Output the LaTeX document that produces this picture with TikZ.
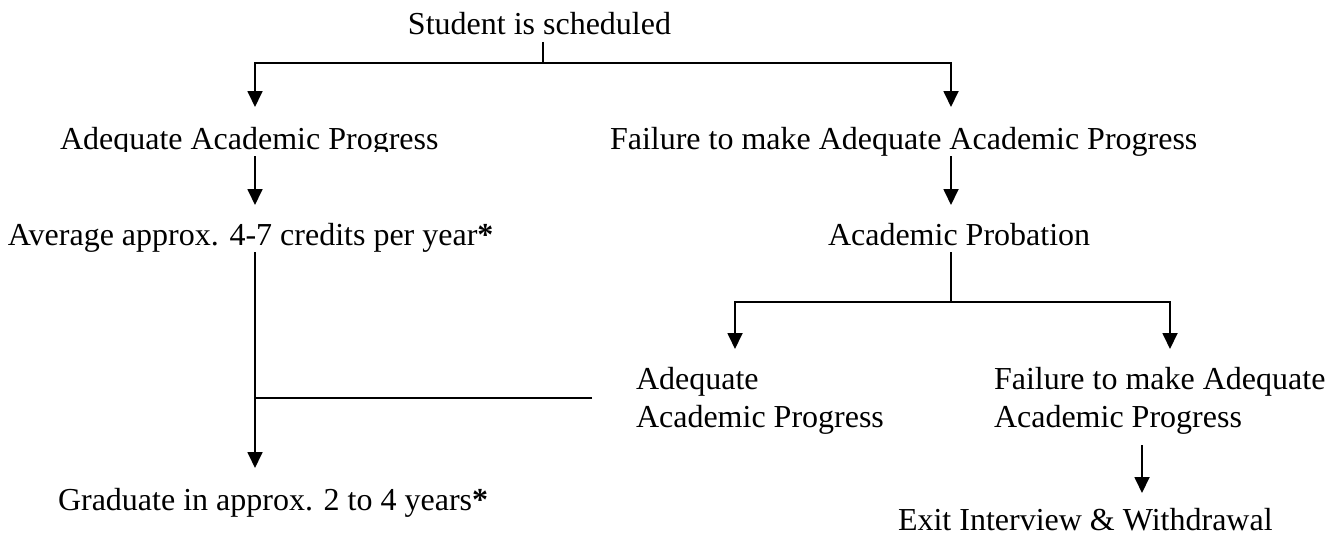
\documentclass[tikz,border=0pt]{standalone}
\usepackage{fontspec}
\setmainfont{Liberation Serif}
\usetikzlibrary{arrows.meta}
\begin{document}
\begin{tikzpicture}[x=1pt,y=-1pt,
  txt/.style={inner sep=0pt, outer sep=0pt, anchor=base west, font=\fontsize{32}{38}\selectfont, text height=22pt, text depth=7pt},
  txttwo/.style={inner sep=0pt, outer sep=0pt, anchor=base west, font=\fontsize{32}{38}\selectfont, text height=22pt},
  conn/.style={line width=1.8pt},
  stem/.style={line width=1.2pt},
  arr/.style={conn, -{Triangle[width=15pt,length=16pt]}}]
\useasboundingbox (0,0) rectangle (1341,535);

% nodes
\node[txt, anchor=base] (student) at (539.5,35) {Student is scheduled};
\begin{scope}
  \clip (0,0) rectangle (700,151);
  \node[txt] (aap) at (60,149) {Adequate Academic Progress};
\end{scope}
\node[txt] (fail) at (610,149) {Failure to make Adequate Academic Progress};
\node[txt] (avg) at (8,245) {Average approx. 4-7 credits per year\textbf{*}};
\node[txt] (prob) at (828,245) {Academic Probation};
\node[txttwo] (aaptwo) at (636,389) {\begin{tabular}[t]{@{}l@{}}Adequate\\Academic Progress\end{tabular}};
\node[txttwo] (failtwo) at (994,389) {\begin{tabular}[t]{@{}l@{}}Failure to make Adequate\\Academic Progress\end{tabular}};
\node[txt] (grad) at (58,510) {Graduate in approx. 2 to 4 years\textbf{*}};
\node[txt] (exit) at (898,530) {Exit Interview \& Withdrawal};

% junction coordinates
\coordinate (jS) at (543,63);
\coordinate (cL) at (255,63);
\coordinate (cR) at (951,63);
\coordinate (jM) at (255,398);
\coordinate (mE) at (592,398);
\coordinate (jP) at (951,302);
\coordinate (pL) at (735,302);
\coordinate (pR) at (1170,302);
\coordinate (eX) at (1142,445);

% connectors
\draw[stem] (student.south -| jS) -- (jS);
\draw[arr, shorten >=20pt] (jS) -- (cL) -- (cL |- aap.north);
\draw[arr, shorten >=20pt] (jS) -- (cR) -- (cR |- fail.north);
\draw[arr, shorten >=18pt] (cL |- aap.south) -- (cL |- avg.north);
\draw[arr, shorten >=18pt] (cR |- fail.south) -- (cR |- prob.north);
\draw[arr, shorten >=20pt] (cL |- avg.south) -- (cL |- grad.north);
\draw[conn] (mE) -- (jM);
\draw[stem] (prob.south -| jP) -- (jP);
\draw[arr, shorten >=18pt] (jP) -- (pL) -- (pL |- aaptwo.north);
\draw[arr, shorten >=18pt] (jP) -- (pR) -- (pR |- failtwo.north);
\draw[arr, shorten <=6.6pt, shorten >=15pt] (failtwo.south -| eX) -- (eX |- exit.north);
\end{tikzpicture}
\end{document}
